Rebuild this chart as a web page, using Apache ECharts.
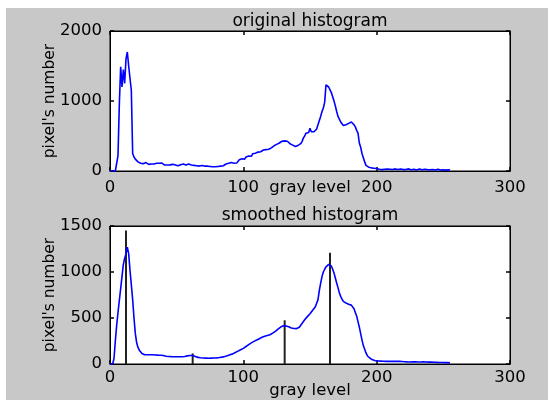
<!DOCTYPE html>
<html>
<head>
<meta charset="utf-8">
<script src="https://cdn.jsdelivr.net/npm/echarts@6/dist/echarts.min.js"></script>
<style>
html,body{margin:0;padding:0;background:#fff;}
#bg{position:absolute;left:6px;top:8px;width:542px;height:392px;background:#c8c8c8;}
#chart{position:absolute;left:0;top:0;width:548px;height:400px;}
</style>
</head>
<body>
<div id="bg"></div>
<div id="chart"></div>
<script>
// Original histogram counts, gray levels 0..255
const originalCounts = [
  0,0,0,0,0,0,220,950,1490,1200,
  1450,1250,1600,1700,1500,1500,1150,250,200,170,
  150,130,120,110,125,105,100,120,100,95,
  110,100,105,100,115,110,120,110,115,112,
  110,85,95,85,90,88,85,95,80,85,
  90,75,85,90,80,100,95,85,90,100,
  95,85,90,80,85,75,80,70,75,80,
  65,70,65,70,60,65,70,60,65,60,
  70,65,75,70,80,75,85,100,90,110,
  95,120,100,110,130,115,140,160,145,175,
  180,170,200,190,215,230,210,245,240,255,
  260,270,280,275,290,300,295,305,300,310,
  320,330,345,360,355,380,375,400,410,425,
  440,430,420,425,400,390,395,370,360,350,
  350,365,380,390,420,470,500,540,560,550,
  610,560,570,560,565,600,660,720,780,850,
  900,980,1230,1210,1200,1180,1120,1060,1000,930,
  850,780,740,700,680,650,640,660,650,680,
  670,700,705,660,630,580,540,400,340,250,
  190,130,80,60,55,50,45,50,40,45,
  35,30,25,30,20,35,25,30,28,20,
  25,30,22,28,30,25,20,22,30,25,
  20,28,22,25,30,20,18,22,25,20,
  15,22,28,20,18,22,25,30,20,15,
  18,20,22,18,15,20,25,18,15,20,
  18,15,12,15,18,15
];
// Smoothed histogram counts, gray levels 0..255
const smoothedCounts = [
  0,0,0,60,250,420,560,690,820,950,
  1080,1150,1200,1270,1200,1020,860,700,500,330,
  230,180,150,130,115,105,100,100,100,100,
  100,100,100,100,98,97,96,95,95,94,
  92,88,85,83,82,80,80,79,79,78,
  78,78,78,78,79,80,82,85,88,90,
  92,93,92,88,82,76,72,70,68,66,
  65,64,64,63,63,63,64,64,65,66,
  67,68,70,72,75,78,82,86,90,95,
  100,105,110,118,125,132,140,148,155,162,
  170,180,190,200,210,220,230,238,246,252,
  260,268,275,283,290,296,302,306,310,315,
  318,325,335,345,355,370,380,392,402,412,
  415,416,414,410,404,398,392,388,386,386,
  385,388,400,420,440,460,480,498,515,530,
  546,565,585,605,622,640,700,800,880,950,
  1000,1030,1055,1075,1082,1078,1065,1030,990,935,
  880,830,775,735,705,680,670,662,655,650,
  645,640,625,600,580,520,460,400,330,260,
  200,160,120,90,75,62,52,45,40,36,
  33,32,31,31,30,30,30,29,29,29,
  29,28,28,28,28,28,28,28,27,27,
  26,25,24,23,22,22,23,24,24,23,
  22,21,21,22,23,24,23,22,21,20,
  20,20,19,19,18,18,17,17,16,16,
  16,15,15,15,15,14
];
// Marker lines in smoothed histogram (gray level, height)
const markerLevels = [12, 62, 131, 165];
const markerHeights = [1450, 115, 475, 1210];

const titles = ['original histogram', 'smoothed histogram'];
const xTicks = [0, 100, 200, 300];
const yTop = {min: 0, max: 2000, interval: 1000};
const yBot = {min: 0, max: 1500, interval: 500};

const FONT = 'DejaVu Sans';
const chart = echarts.init(document.getElementById('chart'));
const plain = v => String(v);

function mainX(gridIndex, nameGap, margin) {
  return {
    type: 'value', gridIndex, min: 0, max: 300, interval: 100, position: 'bottom',
    name: 'gray level', nameLocation: 'middle', nameGap, nameMoveOverlap: false,
    nameTextStyle: {color: '#000', fontFamily: FONT, fontSize: 16.5},
    axisLine: {show: true, onZero: false, lineStyle: {color: '#000', width: 1}},
    axisTick: {show: true, inside: true, length: 4, lineStyle: {color: '#000', width: 1.5}},
    axisLabel: {color: '#000', fontFamily: FONT, fontSize: 16.5, margin, formatter: plain},
    splitLine: {show: false}
  };
}
function mirrorX(gridIndex) {
  return {
    type: 'value', gridIndex, min: 0, max: 300, interval: 100, position: 'top',
    axisLine: {show: true, onZero: false, lineStyle: {color: '#000', width: 1}},
    axisTick: {show: true, inside: true, length: 4, lineStyle: {color: '#000', width: 1.5}},
    axisLabel: {show: false}, splitLine: {show: false}
  };
}
function mainY(gridIndex, r) {
  return {
    type: 'value', gridIndex, min: r.min, max: r.max, interval: r.interval, position: 'left',
    name: "pixel's number", nameLocation: 'middle', nameGap: 52, nameRotate: 90, nameMoveOverlap: false,
    nameTextStyle: {color: '#000', fontFamily: FONT, fontSize: 15.5},
    axisLine: {show: true, onZero: false, lineStyle: {color: '#000', width: 1}},
    axisTick: {show: true, inside: true, length: 4, lineStyle: {color: '#000', width: 1.5}},
    axisLabel: {color: '#000', fontFamily: FONT, fontSize: 16.5, margin: 8, formatter: plain},
    splitLine: {show: false}
  };
}
function mirrorY(gridIndex, r) {
  return {
    type: 'value', gridIndex, min: r.min, max: r.max, interval: r.interval, position: 'right',
    axisLine: {show: true, onZero: false, lineStyle: {color: '#000', width: 1}},
    axisTick: {show: true, inside: true, length: 4, lineStyle: {color: '#000', width: 1.5}},
    axisLabel: {show: false}, splitLine: {show: false}
  };
}

chart.setOption({
  backgroundColor: 'transparent',
  animation: false,
  title: [
    {text: titles[0], left: 310, top: 13, textAlign: 'center', padding: 0,
     textStyle: {color: '#000', fontFamily: FONT, fontSize: 17, fontWeight: 'normal'}},
    {text: titles[1], left: 310, top: 207, textAlign: 'center', padding: 0,
     textStyle: {color: '#000', fontFamily: FONT, fontSize: 17, fontWeight: 'normal'}}
  ],
  grid: [
    {left: 110, top: 31, width: 400, height: 140, show: true, backgroundColor: '#fff', borderColor: '#000', borderWidth: 1},
    {left: 110, top: 226, width: 400, height: 140, show: true, backgroundColor: '#fff', borderColor: '#000', borderWidth: 1}
  ],
  xAxis: [mainX(0, 8, 8), mirrorX(0), mainX(1, 18, 5), mirrorX(1)],
  yAxis: [mainY(0, yTop), mirrorY(0, yTop), mainY(1, yBot), mirrorY(1, yBot)],
  series: [
    {type: 'line', xAxisIndex: 0, yAxisIndex: 0, showSymbol: false, symbol: 'none',
     lineStyle: {color: '#0000ff', width: 1.6},
     data: originalCounts.map((v, i) => [i, v])},
    {type: 'line', xAxisIndex: 2, yAxisIndex: 2, showSymbol: false, symbol: 'none',
     lineStyle: {color: '#0000ff', width: 1.6},
     data: smoothedCounts.map((v, i) => [i, v])},
    {type: 'bar', xAxisIndex: 2, yAxisIndex: 2, barWidth: 2,
     itemStyle: {color: '#222'},
     data: markerLevels.map((x, i) => [x, markerHeights[i]])}
  ]
});
</script>
</body>
</html>
